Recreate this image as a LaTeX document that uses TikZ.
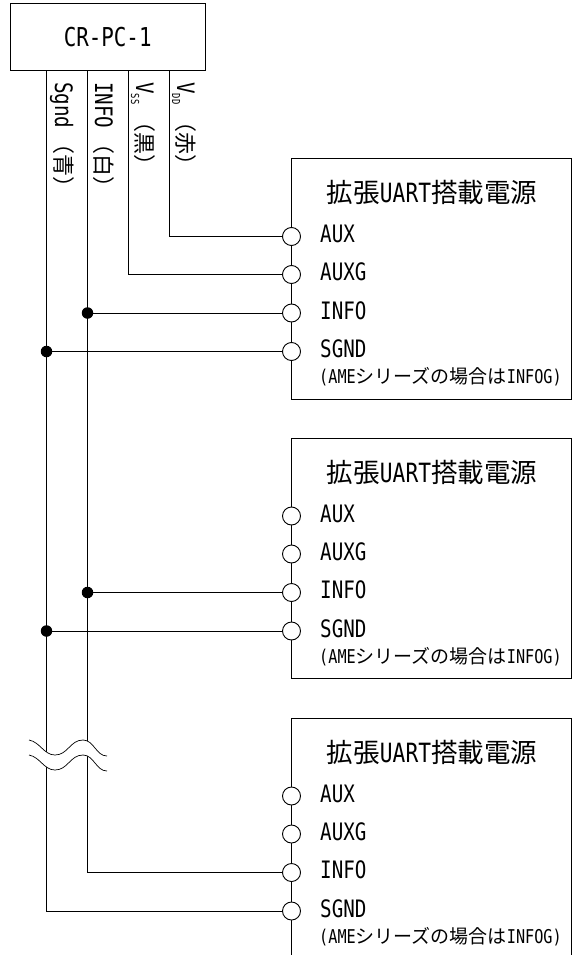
\documentclass[tikz,border=0pt]{standalone}
\usepackage{fontspec}
\setmainfont{Noto Sans CJK JP}
\newfontfamily\halfw[FakeStretch=0.8]{DejaVu Sans Mono}
\usetikzlibrary{positioning}
\tikzset{
	wire/.style={line width=0.9pt},
	port/.style={circle,draw,fill=white,line width=0.9pt,minimum size=18pt,inner sep=0pt},
	dotjoin/.style={circle,fill=black,minimum size=11.5pt,inner sep=0pt},
	pinlabel/.style={anchor=base west,font=\fontsize{24}{24}\selectfont\halfw,inner sep=0pt},
	wirelabel/.style={rotate=-90,anchor=base west,font=\fontsize{22}{22}\selectfont,inner sep=0pt},
	breakline/.style={line width=0.7pt},
}
\newcommand{\wirename}[1]{{\fontsize{24}{24}\selectfont\halfw #1}}
\newcommand{\rail}[1]{{\fontsize{24}{24}\selectfont\halfw V\raisebox{-5pt}{\fontsize{11}{11}\selectfont #1}}}
\begin{document}
\begin{tikzpicture}[x=1pt,y=-1pt]
	\useasboundingbox (0,0) rectangle (576,955);
	\node[draw,line width=0.9pt,minimum width=194.5pt,minimum height=67.5pt,inner sep=0pt,font=\fontsize{26}{26}\selectfont\halfw] (crpc) at (107.7,37) {CR-PC-1};
	% power units
	\foreach \unit/\ytop in {1/158.5,2/438,3/718} {
		\ifnum\unit<3
			\draw[line width=0.9pt] (291.5,\ytop) rectangle (571.5,\ytop+240.5);
		\else
			\draw[line width=0.9pt] (291.5,955) -- (291.5,\ytop) -- (571.5,\ytop) -- (571.5,955);
		\fi
		\node[font=\fontsize{26.5}{26.5}\selectfont] (title\unit) at (432,\ytop+34) {拡張{\halfw UART}搭載電源};
		\node[port] (aux\unit) at (291.5,\ytop+78) {};
		\node[port] (auxg\unit) at (291.5,\ytop+116) {};
		\node[port] (info\unit) at (291.5,\ytop+154.5) {};
		\node[port] (sgnd\unit) at (291.5,\ytop+193) {};
		\node[pinlabel] (auxl\unit) at (320,\ytop+84) {AUX};
		\node[pinlabel] (auxgl\unit) at (320,\ytop+122) {AUXG};
		\node[pinlabel] (infol\unit) at (320,\ytop+160.5) {INFO};
		\node[pinlabel] (sgndl\unit) at (320,\ytop+199) {SGND};
		\node[anchor=base west,inner sep=0pt,font=\fontsize{19}{19}\selectfont] (note\unit) at (319,\ytop+225) {{\halfw (AME}シリーズの場合は{\halfw INFOG)}};
	}
	% wires from the top box
	\coordinate (vdd) at (169.5,70.7);
	\coordinate (vss) at (128.5,70.7);
	\coordinate (infoout) at (87.5,70.7);
	\coordinate (sgndout) at (46.5,70.7);
	\draw[wire] (vdd) |- (aux1);
	\draw[wire] (vss) |- (auxg1);
	\draw[wire] (infoout) |- (info3);
	\draw[wire] (sgndout) |- (sgnd3);
	\node[dotjoin] (j1) at (87.5,0 |- info1) {};
	\node[dotjoin] (j2) at (46.5,0 |- sgnd1) {};
	\node[dotjoin] (j3) at (87.5,0 |- info2) {};
	\node[dotjoin] (j4) at (46.5,0 |- sgnd2) {};
	\draw[wire] (j1) -- (info1);
	\draw[wire] (j2) -- (sgnd1);
	\draw[wire] (j3) -- (info2);
	\draw[wire] (j4) -- (sgnd2);
	% wire labels
	\node[wirelabel] (lsgnd) at (55,82) {\wirename{Sgnd}\hspace{4pt}（青）};
	\node[wirelabel] (linfo) at (95,82) {\wirename{INFO}\hspace{4pt}（白）};
	\node[wirelabel] (lvss) at (136,82) {\rail{SS}\hspace{6pt}（黒）};
	\node[wirelabel] (lvdd) at (177,82) {\rail{DD}\hspace{6pt}（赤）};
	% break marks
	\fill[white] (29,740) .. controls (40,742) and (44,755) .. (55,755) .. controls (68,755) and (70,740) .. (83,740) .. controls (94,740) and (96,756) .. (107,756) -- (107,771) .. controls (96,771) and (94,755) .. (83,755) .. controls (70,755) and (68,770) .. (55,770) .. controls (44,770) and (40,757) .. (29,755) -- cycle;
	\draw[breakline] (29,740) .. controls (40,742) and (44,755) .. (55,755) .. controls (68,755) and (70,740) .. (83,740) .. controls (94,740) and (96,756) .. (107,756);
	\draw[breakline] (29,755) .. controls (40,757) and (44,770) .. (55,770) .. controls (68,770) and (70,755) .. (83,755) .. controls (94,755) and (96,771) .. (107,771);
\end{tikzpicture}
\end{document}
